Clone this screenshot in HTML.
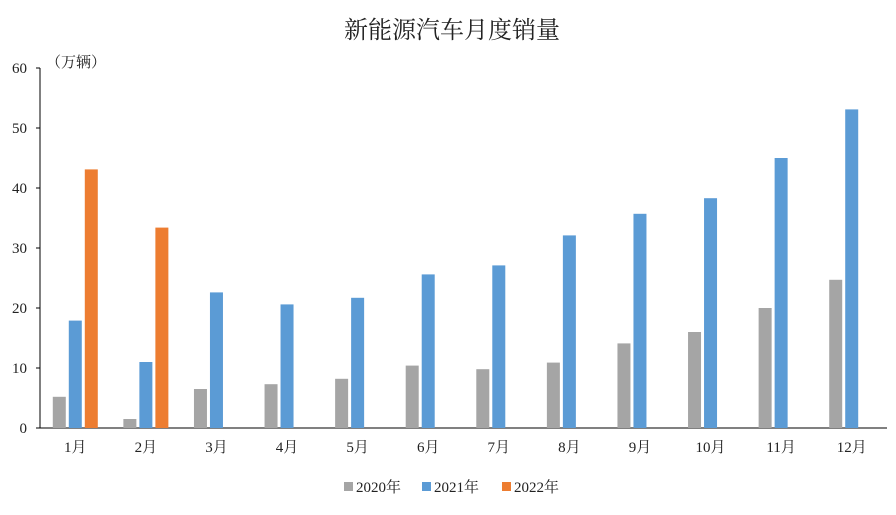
<!DOCTYPE html>
<html><head><meta charset="utf-8"><style>
body{margin:0;background:#fff;}
svg text{font-family:"Liberation Serif","Noto Serif CJK SC",serif;fill:#222;}
</style></head><body>
<svg id="chart" width="896" height="510">
<text x="452" y="38" text-anchor="middle" font-size="24">新能源汽车月度销量</text>
<text x="46" y="67" font-size="15">（万辆）</text>
<g id="axes"></g><g id="bars"></g>
<g>
<rect x="344" y="482" width="9" height="9" fill="#a5a5a5"/>
<text x="356" y="492" font-size="15">2020年</text>
<rect x="422" y="482" width="9" height="9" fill="#5b9bd5"/>
<text x="434" y="492" font-size="15">2021年</text>
<rect x="502" y="482" width="9" height="9" fill="#ed7d31"/>
<text x="514" y="492" font-size="15">2022年</text>
</g>
</svg>
<script>
const categories=["1月","2月","3月","4月","5月","6月","7月","8月","9月","10月","11月","12月"];
const sales2020=[5.2,1.5,6.5,7.3,8.2,10.4,9.8,10.9,14.1,16.0,20.0,24.7];
const sales2021=[17.9,11.0,22.6,20.6,21.7,25.6,27.1,32.1,35.7,38.3,45.0,53.1];
const sales2022=[43.1,33.4,null,null,null,null,null,null,null,null,null,null];
const yTicks=[0,10,20,30,40,50,60];
const NS="http://www.w3.org/2000/svg";
const x0=40,x1=887,y0=428,yTop=68,yMax=60;
const band=(x1-x0)/categories.length;
function xC(i){return x0+band*(i+0.5);}
function yS(v){return y0-(v/yMax)*(y0-yTop);}
function mk(t,a,p){const e=document.createElementNS(NS,t);for(const k in a)e.setAttribute(k,a[k]);p.appendChild(e);return e;}
const ax=document.getElementById('axes'),bg=document.getElementById('bars');
let l=mk('line',{x1:x0,y1:yTop,x2:x0,y2:y0,stroke:'#000','stroke-width':1},ax);


l=mk('line',{x1:x0,y1:y0,x2:x1,y2:y0,stroke:'#000','stroke-width':1},ax);


yTicks.forEach(v=>{
 const y=yS(v);
 const t=mk('line',{x1:x0-4,y1:y,x2:x0,y2:y,stroke:'#000'},ax);
 
 
 const tx=mk('text',{x:27,y:y+5,'text-anchor':'end','font-size':15},ax);tx.textContent=v;
 
 
});
const series=[[sales2020,'#a5a5a5','2020'],[sales2021,'#5b9bd5','2021'],[sales2022,'#ed7d31','2022']];
const bw=13,gap=3;
categories.forEach((c,i)=>{
 const cx=xC(i);
 const tx=mk('text',{x:cx,y:452,'text-anchor':'middle','font-size':15},ax);tx.textContent=c;
 
 
 series.forEach((s,j)=>{
  const v=s[0][i];if(v==null)return;
  const bx=cx+(j-1)*(bw+gap)-bw/2;
  const r=mk('rect',{x:bx,y:yS(v),width:bw,height:y0-yS(v),fill:s[1]},bg);
  
  
 });
});
</script>
</body></html>
